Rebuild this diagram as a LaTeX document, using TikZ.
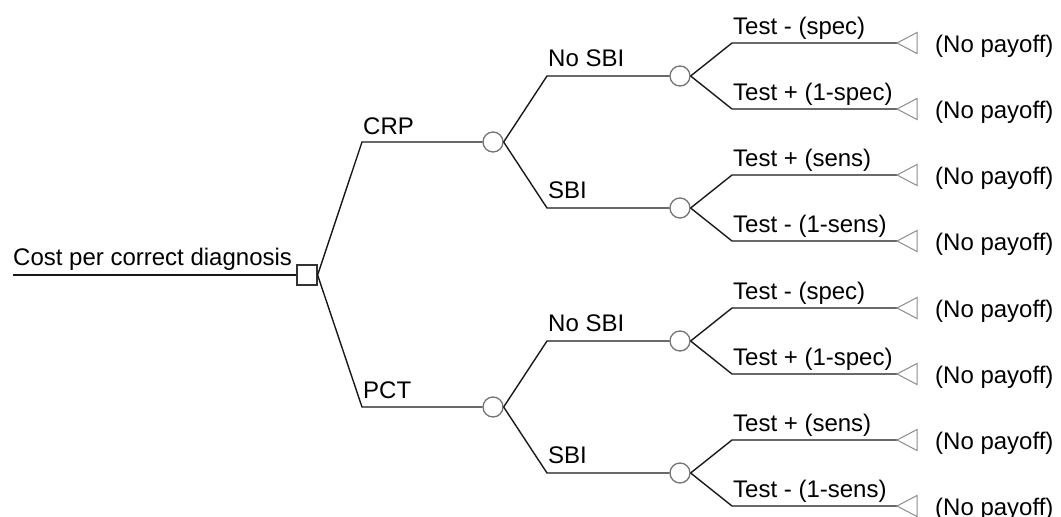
\documentclass[tikz,border=0pt]{standalone}
\usepackage{fontspec}
\setmainfont{Liberation Sans}
\tikzset{
  branch/.style={line width=1.4pt, draw=black!90},
  decision/.style={draw=black!80, line width=1.2pt, rectangle, minimum size=20pt, inner sep=0pt},
  chance/.style={draw=black!55, line width=1.3pt, circle, minimum size=20pt, inner sep=0pt},
  terminal/.style={draw=black!45, line width=1pt, line join=miter},
  lbl/.style={anchor=base west, inner sep=0pt, font=\fontsize{24}{28}\selectfont},
  payoff/.style={anchor=west, inner sep=0pt, font=\fontsize{24}{28}\selectfont},
}
\begin{document}
\begin{tikzpicture}[x=1pt,y=-1pt]
\useasboundingbox (0,0) rectangle (1061,517);
% root
\coordinate (start) at (13,275);
\node[decision] (d) at (307,275) {};
\draw[branch] (start) -- (d.west);
\node[lbl] (lroot) at (13,265) {Cost per correct diagnosis};
% first level
\coordinate (kcrp) at (362,142);
\coordinate (kpct) at (362,407);
\node[chance] (crp) at (493,142) {};
\node[chance] (pct) at (493,407) {};
\draw[branch] (d.east) -- (kcrp) -- (crp.west);
\draw[branch] (d.east) -- (kpct) -- (pct.west);
\node[lbl] (lcrp) at (363,134) {CRP};
\node[lbl] (lpct) at (363,398) {PCT};
% second level
\foreach \p/\n/\yy/\lab in {crp/a/76/No SBI, crp/b/208/SBI, pct/c/341/No SBI, pct/e/473/SBI}{
  \coordinate (k\n) at (547,\yy);
  \node[chance] (c\n) at (680,\yy) {};
  \draw[branch] (\p.east) -- (k\n) -- (c\n.west);
  \node[lbl] (l\n) at (548,\yy-10) {\lab};
}
% third level
\foreach \n/\yy/\la/\lb in {a/76/{Test - (spec)}/{Test + (1-spec)},
                            b/208/{Test + (sens)}/{Test - (1-sens)},
                            c/341/{Test - (spec)}/{Test + (1-spec)},
                            e/473/{Test + (sens)}/{Test - (1-sens)}}{
  \coordinate (k\n1) at (732,\yy-33);
  \coordinate (k\n2) at (732,\yy+33);
  \coordinate (t\n1) at (897,\yy-33);
  \coordinate (t\n2) at (897,\yy+33);
  \draw[branch] (c\n.east) -- (k\n1) -- (t\n1);
  \draw[branch] (c\n.east) -- (k\n2) -- (t\n2);
  \draw[terminal] (t\n1) -- ++(20,-10.5) -- ++(0,21) -- cycle;
  \draw[terminal] (t\n2) -- ++(20,-10.5) -- ++(0,21) -- cycle;
  \node[lbl] (l\n1) at (733,\yy-33-9) {\la};
  \node[lbl] (l\n2) at (733,\yy+33-9) {\lb};
  \node[payoff] (p\n1) at (935,\yy-33+3) {(No payoff)};
  \node[payoff] (p\n2) at (935,\yy+33+3) {(No payoff)};
}
\end{tikzpicture}
\end{document}
